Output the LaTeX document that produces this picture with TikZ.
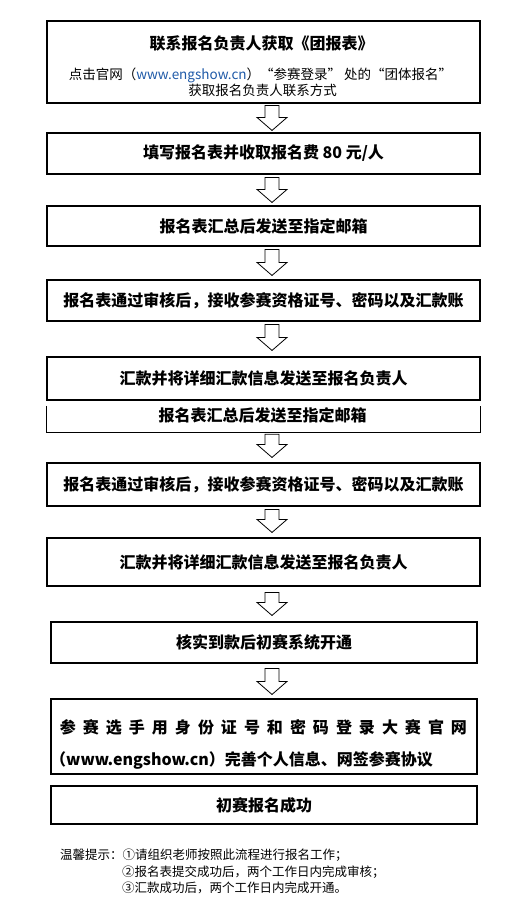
\documentclass[tikz,border=0pt]{standalone}
\usepackage{fontspec}
\setmainfont{Noto Sans CJK SC}
\usetikzlibrary{calc}
\definecolor{urlblue}{HTML}{1F5AA8}
\tikzset{
  boxa/.style={draw=black, line width=1.1bp, minimum width=433bp, inner sep=0pt},
  boxb/.style={boxa, minimum width=426bp},
  ttl/.style={font=\fontsize{16bp}{19bp}\selectfont\bfseries, inner sep=0pt},
  subtxt/.style={font=\fontsize{13.5bp}{16bp}\selectfont, inner sep=0pt},
  notetext/.style={font=\fontsize{12.5bp}{15bp}\selectfont, inner sep=0pt, anchor=west},
  fatarrow/.style={draw=black, fill=white, line width=0.8bp, line join=miter},
}
\newcommand\fatdown[4]{%
  \draw[fatarrow] let \p1=(#1.south), \p2=(#2.north), \p3=(272,0) in
    (\x3-7bp,\y1-#3bp) -- (\x3+7bp,\y1-#3bp) -- (\x3+7bp,\y2+#4bp+13bp)
    -- (\x3+15bp,\y2+#4bp+13bp) -- (\x3,\y2+#4bp) -- (\x3-15bp,\y2+#4bp+13bp)
    -- (\x3-7bp,\y2+#4bp+13bp) -- cycle;}
\begin{document}
\begin{tikzpicture}[x=1bp,y=-1bp]
\fill[white] (0,0) rectangle (530,920);
\useasboundingbox (0,0) rectangle (530,920);

% box 1
\node[boxa, minimum height=82bp] (b1) at (263.5,62) {};
\node[ttl] (t1a) at (261.5,43) {联系报名负责人获取《团报表》};
\node[subtxt] (t1b) at (260.5,75) {点击官网（\textcolor{urlblue}{www.engshow.cn}）“参赛登录” 处的“团体报名”};
\node[subtxt] (t1c) at (262.5,90) {获取报名负责人联系方式};

% single-line boxes
\node[boxa, ttl, minimum height=41bp] (b2) at (263.5,153.5) {填写报名表并收取报名费 80 元/人};
\node[boxa, ttl, minimum height=40bp] (b3) at (263.5,226) {报名表汇总后发送至指定邮箱};
\node[boxa, ttl, minimum height=41bp] (b4) at (263.5,300.5) {报名表通过审核后，接收参赛资格证号、密码以及汇款账};
\node[boxa, ttl, minimum height=43bp] (b5) at (263.5,378.5) {汇款并将详细汇款信息发送至报名负责人};

% open box
\node[minimum width=433bp, minimum height=26bp, inner sep=0pt] (b5b) at (263.5,419) {};
\draw[line width=1.1bp] (b5b.north west) -- (b5b.south west) -- (b5b.south east) -- (b5b.north east);
\node[ttl] (t5b) at (262.5,415) {报名表汇总后发送至指定邮箱};

\node[boxa, ttl, minimum height=43bp] (b6) at (263.5,484.5) {报名表通过审核后，接收参赛资格证号、密码以及汇款账};
\node[boxa, ttl, minimum height=48bp] (b7) at (263.5,562) {汇款并将详细汇款信息发送至报名负责人};
\node[boxb, ttl, minimum height=41bp] (b8) at (264,642.5) {核实到款后初赛系统开通};

% box 9
\node[boxb, minimum height=75bp] (b9) at (264,736.5) {};
\node[ttl] (t9a) at (263.5,727) {\makebox[407bp][s]{参\hfill 赛\hfill 选\hfill 手\hfill 用\hfill 身\hfill 份\hfill 证\hfill 号\hfill 和\hfill 密\hfill 码\hfill 登\hfill 录\hfill 大\hfill 赛\hfill 官\hfill 网}};
\node[ttl, anchor=west] (t9b) at (50,760) {（www.engshow.cn）完善个人信息、网签参赛协议};

\node[boxb, ttl, minimum height=38bp] (b10) at (264,805) {初赛报名成功};

% arrows
\fatdown{b1}{b2}{2}{2}
\fatdown{b2}{b3}{3}{3}
\fatdown{b3}{b4}{3}{4}
\fatdown{b4}{b5}{3}{6}
\fatdown{b5b}{b6}{2}{5}
\fatdown{b6}{b7}{3}{5}
\fatdown{b7}{b8}{6}{6}
\fatdown{b8}{b9}{5}{4}

% notes
\node[notetext] (n1) at (60,855) {温馨提示：①请组织老师按照此流程进行报名工作；};
\node[notetext] (n2) at (122,872) {②报名表提交成功后，两个工作日内完成审核；};
\node[notetext] (n3) at (122,888) {③汇款成功后，两个工作日内完成开通。};
\end{tikzpicture}
\end{document}
